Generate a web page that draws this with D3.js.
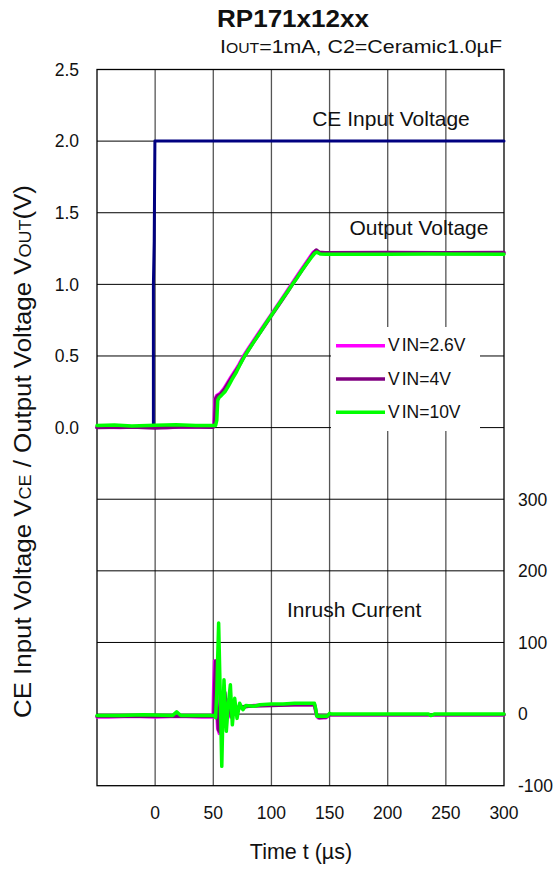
<!DOCTYPE html>
<html>
<head>
<meta charset="utf-8">
<script src="https://cdn.jsdelivr.net/npm/d3@7"></script>
<style>
  body { margin: 0; background: #fff; }
  text { font-family: "Liberation Sans", Arial, sans-serif; fill: #111; }
</style>
</head>
<body>
<svg id="chart" width="559" height="871"></svg>
<script>
// ---- data ----
const timeTicks = [0, 50, 100, 150, 200, 250, 300];
const voltTicks = [0, 0.5, 1.0, 1.5, 2.0, 2.5];
const currTicks = [-100, 0, 100, 200, 300];

// CE input voltage (V)
const vce = [[-50, 0], [-1.5, 0], [-1.5, 1.0], [-0.8, 1.3], [-0.2, 2.0], [300, 2.0]];

// output voltage (V)
const vout26 = [[-50, 0.005], [-30, 0.0], [-10, 0.008], [10, 0.0], [30, 0.006], [49.5, 0.003], [50.5, 0.02], [51.5, 0.2], [53, 0.225], [56, 0.24], [59, 0.27], [62, 0.31], [65, 0.35], [69, 0.40], [72, 0.44], [76, 0.50], [80, 0.55], [84, 0.60], [89, 0.66], [94, 0.72], [99, 0.78], [104, 0.84], [109, 0.90], [114, 0.96], [118, 1.01], [123, 1.07], [128, 1.13], [133, 1.19], [136, 1.225], [138, 1.235], [141, 1.22], [145, 1.215], [200, 1.215], [250, 1.213], [300, 1.215]];
const vout4 = [[-50, 0.0], [-20, 0.005], [0, -0.002], [25, 0.006], [50, 0.003], [51, 0.02], [52, 0.2], [53.5, 0.22], [56.5, 0.235], [59.5, 0.265], [62.5, 0.305], [65.5, 0.345], [69.5, 0.395], [72.5, 0.435], [76.5, 0.495], [80.5, 0.545], [84.5, 0.595], [89.5, 0.655], [94.5, 0.715], [99.5, 0.775], [104.5, 0.835], [109.5, 0.895], [114.5, 0.955], [118.5, 1.005], [123.5, 1.065], [128.5, 1.125], [133.5, 1.185], [136.5, 1.22], [138.5, 1.24], [141, 1.225], [146, 1.22], [200, 1.222], [250, 1.22], [300, 1.222]];
const vout10 = [[-50, 0.015], [-35, 0.018], [-20, 0.012], [0, 0.016], [18, 0.02], [35, 0.014], [52, 0.015], [53, 0.05], [53.8, 0.19], [55, 0.21], [57, 0.225], [60, 0.25], [63, 0.29], [66, 0.335], [70, 0.39], [73, 0.44], [77, 0.50], [81, 0.55], [85, 0.60], [90, 0.66], [95, 0.725], [100, 0.785], [105, 0.845], [110, 0.905], [114, 0.95], [118, 1.0], [122, 1.045], [126, 1.095], [130, 1.14], [134, 1.185], [137, 1.215], [139, 1.225], [142, 1.212], [147, 1.21], [200, 1.21], [235, 1.212], [300, 1.21]];

// inrush current (mA)
const iin26 = [[-50, -4], [-40, -4], [-20, -3], [0, -4], [20, -3], [40, -4], [49.8, -4], [50.4, 40], [51.2, 74], [52.5, 20], [53.8, -20], [55.2, -27], [56.5, 15], [58, -12], [59.5, 28], [61, -8], [63, 20], [65, -4], [67, 14], [69, 2], [72, 11], [76, 10], [85, 12], [100, 13], [120, 13], [137, 13], [138.5, -1], [140, -5], [147, -5], [150, -1], [200, -1], [300, -1]];
const iin4 = [[-50, -3], [-20, -3], [0, -3], [30, -3], [50.5, -3], [51.2, 40], [52, 74], [53.2, 15], [54.5, -22], [55.8, -25], [57, 18], [58.5, -10], [60, 30], [61.5, -6], [63.5, 18], [65.5, -3], [67.5, 12], [70, 3], [73, 10], [80, 11], [100, 12], [120, 13], [137, 13], [139, -1], [141, -5], [147, -4], [150, -1], [200, -1], [300, -1]];
const iin10 = [[-50, -2], [-30, -2], [-10, -1], [15, -2], [18.5, 3], [22, -2], [45, -2], [51, -2], [52, -5], [53, 30], [54.6, 127], [55.8, 40], [57.3, -73], [58, -20], [59.2, 48], [60.2, 10], [61.2, -24], [63, 15], [64.7, 41], [66.4, -15], [68.4, 22], [70.4, -6], [72.7, 15], [75.5, 6], [78, 12], [85, 11], [90, 13], [100, 14], [110, 14], [120, 15], [130, 15], [137, 15], [138, 8], [139, -3], [146, -3], [148, -3], [150, 1], [152, 0], [200, 0], [235, 0], [237, -2], [240, 0], [300, 0]];

const legendNames = ["2.6V", "4V", "10V"];
const colors = ["#ff00ff", "#800080", "#00ff00"];

// ---- layout ----
const svg = d3.select("#chart");
const box = { left: 97, right: 504, top: 69.5, bottom: 785.7 };

const x = d3.scaleLinear().domain([-50, 300]).range([box.left, box.right]);
const yV = d3.scaleLinear().domain([-2.5, 2.5]).range([box.bottom, box.top]);
const yI = d3.scaleLinear().domain([-100, 900]).range([box.bottom, box.top]);

// grid
const grid = svg.append("g");
grid.selectAll(".vg")
    .data([0, 50, 100, 150, 200, 250])
    .join("line")
    .attr("x1", d => x(d)).attr("x2", d => x(d))
    .attr("y1", box.top).attr("y2", box.bottom)
    .attr("stroke", "#555").attr("stroke-width", 1.3);
grid.selectAll(".hg")
    .data(d3.range(-2.0, 2.5, 0.5))
    .join("line")
    .attr("x1", box.left).attr("x2", box.right)
    .attr("y1", d => yV(d)).attr("y2", d => yV(d))
    .attr("stroke", "#000").attr("stroke-width", 1);

// frame
svg.append("rect")
    .attr("x", box.left).attr("y", box.top)
    .attr("width", box.right - box.left).attr("height", box.bottom - box.top)
    .attr("fill", "none").attr("stroke", "#000").attr("stroke-width", 1.3);

// legend background hides the grid under it
svg.append("rect")
    .attr("x", 331).attr("y", 327).attr("width", 149).attr("height", 104)
    .attr("fill", "#fff");

// tick labels (left volts, right mA, bottom time)
svg.append("g").selectAll("text")
    .data(voltTicks)
    .join("text")
    .attr("x", 79).attr("y", d => yV(d)).attr("dy", "0.36em")
    .attr("text-anchor", "end").attr("font-size", 17.5)
    .text(d => d.toFixed(1));

svg.append("g").selectAll("text")
    .data(currTicks)
    .join("text")
    .attr("x", 518).attr("y", d => yI(d)).attr("dy", "0.36em")
    .attr("font-size", 17.5)
    .text(d => d);

svg.append("g").selectAll("text")
    .data(timeTicks)
    .join("text")
    .attr("x", d => x(d)).attr("y", 819)
    .attr("text-anchor", "middle").attr("font-size", 17.5)
    .text(d => d);

// lines
const lineV = d3.line().x(d => x(d[0])).y(d => yV(d[1]));
const lineI = d3.line().x(d => x(d[0])).y(d => yI(d[1]));

const plot = svg.append("g")
    .attr("fill", "none")
    .attr("stroke-linejoin", "round")
    .attr("stroke-linecap", "round");

plot.append("path").datum(vce)
    .attr("stroke", "#000080").attr("stroke-width", 3)
    .attr("d", lineV);

[vout26, vout4, vout10].forEach((s, i) => {
    plot.append("path").datum(s)
        .attr("stroke", colors[i]).attr("stroke-width", 3.5)
        .attr("d", lineV);
});
[iin26, iin4, iin10].forEach((s, i) => {
    plot.append("path").datum(s)
        .attr("stroke", colors[i]).attr("stroke-width", 3.5)
        .attr("d", lineI);
});

// legend
const leg = svg.append("g");
legendNames.forEach((name, i) => {
    const ly = 345.7 + i * 33.3;
    leg.append("line")
        .attr("x1", 336).attr("x2", 385).attr("y1", ly).attr("y2", ly)
        .attr("stroke", colors[i]).attr("stroke-width", 3.5);
    const t = leg.append("text")
        .attr("x", 388).attr("y", ly + 5.5).attr("font-size", 17.5);
    t.append("tspan").text("V");
    t.append("tspan").attr("dx", 2).text("IN=" + name);
});

// curve labels
svg.append("text").attr("x", 391).attr("y", 126)
    .attr("text-anchor", "middle").attr("font-size", 21)
    .text("CE Input Voltage");
svg.append("text").attr("x", 419).attr("y", 235)
    .attr("text-anchor", "middle").attr("font-size", 21)
    .text("Output Voltage");
svg.append("text").attr("x", 287).attr("y", 617)
    .attr("font-size", 21)
    .text("Inrush Current");

// title
svg.append("text").attr("x", 293).attr("y", 26.5)
    .attr("text-anchor", "middle").attr("font-size", 24).attr("font-weight", "bold")
    .attr("textLength", 152).attr("lengthAdjust", "spacingAndGlyphs")
    .text("RP171x12xx");
const sub = svg.append("text").attr("x", 220).attr("y", 53)
    .attr("font-size", 19)
    .attr("textLength", 282).attr("lengthAdjust", "spacingAndGlyphs");
sub.append("tspan").text("I");
sub.append("tspan").attr("font-size", 14).text("OUT");
sub.append("tspan").text("=1mA, C2=Ceramic1.0µF");

// axis titles
svg.append("text").attr("x", 301).attr("y", 859)
    .attr("text-anchor", "middle").attr("font-size", 21.5)
    .text("Time t (µs)");

const yl = svg.append("text")
    .attr("transform", "translate(31,718) rotate(-90)")
    .attr("font-size", 23)
    .attr("textLength", 533).attr("lengthAdjust", "spacingAndGlyphs");
yl.append("tspan").text("CE Input Voltage V");
yl.append("tspan").attr("font-size", 16).text("CE");
yl.append("tspan").text(" / Output Voltage V");
yl.append("tspan").attr("font-size", 16).text("OUT");
yl.append("tspan").text("(V)");
</script>
</body>
</html>
